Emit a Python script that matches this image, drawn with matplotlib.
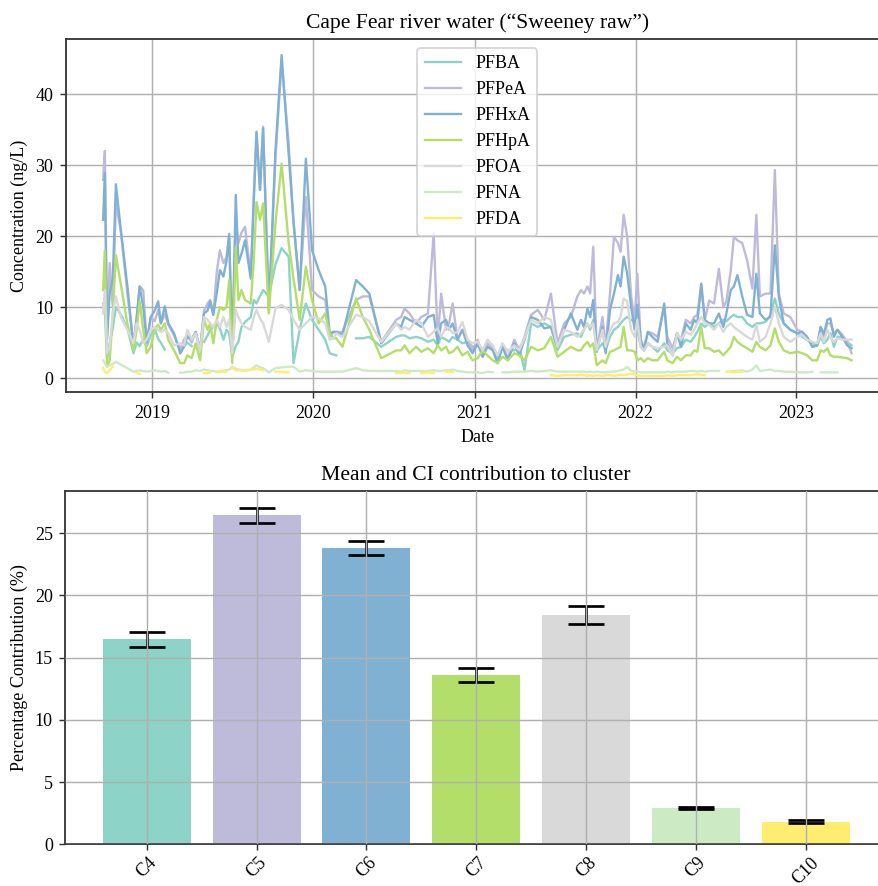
import numpy as np
import pandas as pd
import matplotlib
matplotlib.use("Agg")
import matplotlib.pyplot as plt
import matplotlib.dates as mdates

nan = np.nan

dates = [
    '2018-09-11', '2018-09-15', '2018-09-20', '2018-09-26', '2018-10-03', '2018-10-10', '2018-10-21', '2018-11-05', '2018-11-19', '2018-11-26',
    '2018-12-03', '2018-12-11', '2018-12-19', '2018-12-28', '2019-01-06', '2019-01-14', '2019-01-20', '2019-01-29', '2019-02-06', '2019-02-19',
    '2019-03-05', '2019-03-14', '2019-03-21', '2019-03-31', '2019-04-09', '2019-04-19', '2019-04-28', '2019-05-06', '2019-05-12', '2019-05-19',
    '2019-05-27', '2019-06-03', '2019-06-11', '2019-06-18', '2019-06-24', '2019-07-01', '2019-07-09', '2019-07-15', '2019-07-22', '2019-07-30',
    '2019-08-12', '2019-08-19', '2019-08-25', '2019-09-02', '2019-09-09', '2019-09-22', '2019-10-07', '2019-10-21', '2019-11-06', '2019-11-17',
    '2019-12-01', '2019-12-15', '2019-12-29', '2020-01-13', '2020-01-28', '2020-02-07', '2020-02-16', '2020-02-22', '2020-03-07', '2020-04-07',
    '2020-04-22', '2020-05-07', '2020-06-03', '2020-07-07', '2020-07-18', '2020-07-26', '2020-08-06', '2020-08-21', '2020-09-02', '2020-09-17',
    '2020-09-30', '2020-10-09', '2020-10-17', '2020-10-28', '2020-11-04', '2020-11-12', '2020-11-23', '2020-12-04', '2020-12-16', '2020-12-27',
    '2021-01-08', '2021-01-19', '2021-01-30', '2021-02-11', '2021-02-22', '2021-03-05', '2021-03-17', '2021-04-01', '2021-04-12', '2021-04-24',
    '2021-05-09', '2021-05-24', '2021-06-08', '2021-06-23', '2021-07-08', '2021-07-23', '2021-08-07', '2021-08-22', '2021-08-30', '2021-09-06',
    '2021-09-14', '2021-09-20', '2021-09-27', '2021-10-05', '2021-10-18', '2021-10-25', '2021-11-04', '2021-11-13', '2021-11-22', '2021-11-28',
    '2021-12-05', '2021-12-13', '2021-12-22', '2021-12-30', '2022-01-05', '2022-01-13', '2022-01-20', '2022-01-29', '2022-02-08', '2022-02-20',
    '2022-03-07', '2022-03-14', '2022-03-26', '2022-04-05', '2022-04-14', '2022-04-25', '2022-05-06', '2022-05-14', '2022-05-21', '2022-05-30',
    '2022-06-07', '2022-06-17', '2022-06-28', '2022-07-09', '2022-07-19', '2022-07-26', '2022-08-05', '2022-08-12', '2022-08-20', '2022-08-31',
    '2022-09-11', '2022-09-23', '2022-10-02', '2022-10-10', '2022-10-23', '2022-11-03', '2022-11-13', '2022-11-22', '2022-12-03', '2022-12-18',
    '2023-01-03', '2023-01-14', '2023-01-25', '2023-02-06', '2023-02-17', '2023-02-25', '2023-03-04', '2023-03-12', '2023-03-19', '2023-03-27',
    '2023-04-04', '2023-04-15', '2023-04-26', '2023-05-06']

pfba = [
    10.5, 9.5, 2.5, 5.0, 7.0, 10.0, 9.0, 7.0, 3.5, 5.0,
    4.5, 5.5, 4.5, 6.0, 7.0, 5.5, 5.0, 4.0, nan, nan,
    3.5, 4.5, 5.0, 4.5, nan, nan, 5.1, 6.0, 6.8, 7.2,
    7.7, 7.0, 5.4, 6.8, 6.3, 3.0, 4.5, 5.1, 7.2, 7.9,
    8.6, 11.0, 10.5, 11.5, 12.4, 11.5, 16.0, 18.3, 17.1, 2.1,
    6.8, 10.5, 8.2, 6.8, 5.4, 3.5, 3.3, 3.2, nan, 5.6,
    5.6, 5.8, 4.4, 5.8, 6.0, 6.0, 5.6, 5.8, 5.6, 5.1,
    5.4, 4.6, 5.8, 5.4, 5.1, 5.8, 5.4, 4.9, 5.1, 4.4,
    4.6, 3.9, 4.4, 4.2, 2.8, 4.4, 3.9, 3.9, 4.4, 1.1,
    7.7, 7.2, 7.7, 7.2, 3.9, 5.8, 6.1, 6.3, 5.8, 6.8,
    7.7, 6.8, 8.2, 3.9, 4.9, 3.9, 5.8, 6.8, 7.2, 7.7,
    8.2, 8.6, 8.2, 7.9, 6.8, 4.4, 3.9, 4.9, 4.4, 3.7,
    4.9, 3.9, 3.5, 4.2, 4.4, 5.4, 5.1, 5.8, 6.5, 7.7,
    7.2, 7.7, 7.2, 7.7, 8.2, 8.0, 8.6, 8.9, 8.6, 8.6,
    7.7, 7.2, 7.7, 7.7, 7.9, 8.9, 11.2, 9.1, 7.7, 6.8,
    6.3, 5.8, 5.4, 4.9, 4.6, 5.8, 4.9, 5.4, 6.3, 4.4,
    5.8, 5.8, 5.1, 4.6]

pfpea = [
    27.9, 32.0, 6.8, 16.2, 10.0, 24.6, 20.8, 12.0, 4.5, 8.0,
    12.9, 12.4, 5.0, 8.6, 8.0, 9.6, 7.7, 9.0, 7.5, 6.0,
    4.0, 5.5, 6.0, 5.0, 6.5, 4.0, 9.5, 10.5, 11.0, 9.0,
    15.0, 18.0, 16.2, 17.0, 19.9, 4.0, 22.0, 19.0, 20.5, 21.3,
    14.3, 26.0, 34.5, 26.5, 35.4, 9.6, 31.0, 44.6, 33.0, 22.0,
    12.4, 25.5, 12.4, 11.5, 11.0, 5.8, 6.5, 6.5, 6.5, 11.0,
    11.5, 11.5, 5.1, 8.2, 8.6, 9.8, 9.1, 7.7, 8.6, 9.1,
    20.4, 5.4, 11.9, 6.8, 7.7, 10.5, 5.4, 6.8, 5.4, 3.9,
    5.4, 3.0, 4.9, 4.2, 2.1, 4.6, 2.8, 5.4, 3.9, 5.8,
    8.9, 9.6, 8.2, 11.9, 4.9, 7.7, 8.6, 11.5, 12.4, 11.9,
    12.9, 11.9, 18.5, 3.9, 8.6, 4.4, 11.9, 19.9, 19.0, 17.8,
    23.0, 19.9, 11.5, 8.2, 14.7, 4.9, 4.4, 6.5, 6.3, 5.8,
    10.0, 5.8, 4.2, 6.3, 5.4, 8.2, 7.7, 8.6, 8.9, 13.1,
    8.2, 10.9, 10.5, 15.4, 10.0, 10.8, 15.2, 19.9, 19.4, 19.0,
    16.6, 12.6, 23.0, 11.5, 11.9, 11.9, 29.3, 11.9, 9.1, 8.6,
    6.8, 6.5, 5.8, 4.4, 4.6, 7.2, 5.8, 7.7, 7.7, 6.3,
    6.8, 6.1, 5.1, 3.5]

pfhxa = [
    22.3, 28.9, 5.4, 12.0, 14.0, 27.3, 21.0, 13.0, 4.4, 8.5,
    12.9, 10.0, 5.0, 8.6, 9.5, 10.8, 7.7, 10.1, 7.7, 6.3,
    3.5, 4.5, 5.8, 5.5, 6.5, 3.9, 9.1, 9.5, 10.8, 8.9,
    12.0, 15.2, 14.3, 16.5, 20.3, 3.9, 25.8, 16.2, 17.5, 19.4,
    14.0, 25.0, 34.7, 26.5, 35.2, 9.6, 32.0, 45.5, 31.6, 22.0,
    12.4, 30.9, 18.0, 15.2, 12.9, 6.3, 6.5, 6.5, 6.1, 13.8,
    12.9, 11.9, 4.9, 7.7, 7.2, 8.6, 8.2, 7.7, 7.2, 8.6,
    8.9, 4.9, 7.7, 8.2, 6.8, 7.7, 5.4, 6.8, 4.6, 3.5,
    4.9, 3.0, 4.4, 3.9, 2.1, 4.4, 2.5, 4.9, 3.2, 5.4,
    8.6, 8.2, 7.0, 7.2, 4.4, 6.8, 9.1, 6.8, 8.2, 7.2,
    9.8, 8.6, 11.0, 3.7, 7.2, 3.5, 9.6, 11.9, 14.5, 12.9,
    17.1, 14.7, 10.0, 6.8, 10.3, 5.4, 3.9, 6.5, 5.8, 5.1,
    10.5, 4.9, 3.2, 6.3, 4.4, 7.7, 6.8, 8.2, 7.7, 13.3,
    8.2, 7.7, 7.7, 9.1, 7.2, 9.1, 12.4, 12.9, 14.5, 11.5,
    8.9, 8.6, 14.7, 9.1, 8.2, 8.6, 18.7, 11.5, 7.7, 6.8,
    6.3, 6.5, 5.8, 4.4, 4.6, 7.2, 6.1, 8.2, 8.4, 5.8,
    6.8, 5.8, 4.6, 4.2]

pfhpa = [
    12.4, 18.0, 1.6, 2.5, 9.0, 17.3, 13.3, 7.7, 3.9, 6.8,
    10.8, 6.8, 3.5, 4.4, 6.8, 7.5, 6.8, 7.7, 5.4, 3.9,
    2.1, 2.1, 3.2, 2.8, 4.9, 2.5, 8.2, 6.8, 7.7, 4.9,
    8.2, 10.0, 9.6, 10.0, 13.8, 2.1, 18.5, 11.0, 12.4, 11.0,
    10.5, 16.6, 24.8, 22.3, 24.6, 9.1, 21.8, 30.2, 19.0, 14.0,
    8.2, 15.7, 11.0, 7.7, 9.1, 6.3, 5.6, 5.6, 4.4, 11.2,
    8.6, 6.8, 2.8, 3.9, 3.9, 4.6, 3.5, 4.4, 3.7, 4.2,
    3.5, 4.6, 3.9, 4.4, 3.5, 3.7, 4.4, 3.2, 3.7, 2.5,
    2.8, 3.9, 3.2, 2.5, 2.1, 3.0, 2.5, 3.5, 3.2, 2.5,
    4.4, 3.9, 4.2, 5.8, 3.0, 3.7, 4.4, 3.9, 3.9, 4.6,
    5.1, 4.4, 4.9, 1.8, 2.5, 2.1, 3.7, 3.9, 4.2, 4.4,
    7.2, 3.9, 3.9, 3.7, 2.5, 2.8, 2.3, 2.8, 2.5, 2.5,
    3.7, 2.5, 2.1, 3.0, 2.5, 3.2, 3.2, 3.9, 3.7, 7.2,
    4.2, 4.2, 3.7, 3.9, 3.2, 3.7, 4.4, 5.8, 5.1, 4.6,
    4.2, 3.7, 5.1, 4.4, 3.9, 4.6, 7.0, 5.1, 3.9, 3.5,
    3.7, 3.5, 3.2, 2.5, 2.5, 3.9, 3.7, 4.2, 3.2, 3.0,
    3.0, 2.9, 2.8, 2.5]

pfoa = [
    9.1, 12.4, 3.5, 4.4, 9.1, 11.5, 8.6, 6.8, 4.9, 7.7,
    6.8, 4.9, 5.4, 6.8, 7.2, 6.8, 6.5, 6.8, 6.3, 4.6,
    4.9, 4.6, 6.8, 5.4, 6.3, 3.9, 8.6, 8.2, 7.7, 7.2,
    8.2, 7.2, 8.6, 7.2, 8.2, 3.5, 9.6, 8.6, 7.7, 7.2,
    6.8, 8.6, 9.6, 8.4, 7.7, 5.1, 9.8, 10.3, 9.6, 8.2,
    6.8, 7.7, 8.6, 8.4, 7.7, 5.4, 5.6, 6.3, 5.8, 8.9,
    8.6, 8.0, 5.1, 7.7, 6.8, 7.2, 6.8, 8.2, 7.7, 5.8,
    6.5, 7.0, 5.8, 7.2, 7.0, 6.3, 6.5, 7.9, 5.4, 4.9,
    5.1, 3.9, 5.4, 4.6, 3.2, 4.9, 3.7, 4.6, 3.9, 5.6,
    8.2, 7.7, 8.6, 8.2, 4.4, 6.8, 6.5, 5.8, 6.3, 6.8,
    7.7, 7.2, 7.7, 3.9, 6.8, 4.4, 6.8, 7.7, 7.9, 8.6,
    11.2, 10.8, 6.8, 5.8, 8.2, 4.4, 3.9, 4.9, 4.4, 4.2,
    4.4, 4.6, 3.2, 6.3, 5.4, 6.5, 6.1, 6.8, 7.7, 8.6,
    7.7, 7.5, 6.8, 7.7, 6.5, 7.2, 7.7, 7.2, 6.8, 6.3,
    5.8, 5.4, 7.5, 5.1, 5.8, 7.7, 10.0, 7.7, 5.8, 5.1,
    5.8, 6.1, 5.4, 5.1, 4.9, 6.3, 5.1, 6.8, 5.8, 5.1,
    5.6, 5.4, 5.4, 5.4]

pfna = [
    2.5, 2.1, 1.6, 1.8, 2.0, 2.3, 1.9, 1.4, 0.9, 1.0,
    1.1, 1.0, 0.9, 1.0, 1.1, 1.0, 0.9, 1.0, 0.75, nan,
    0.75, 0.8, 0.9, 0.9, 1.1, 1.0, 1.2, 1.1, 1.0, 1.0,
    0.9, 1.0, 1.0, 1.1, 1.2, 1.6, 1.3, 1.2, 1.1, 1.0,
    1.2, 1.5, 1.8, 1.5, 1.4, 0.8, 1.4, 1.5, 1.6, 1.6,
    0.9, 1.1, 1.0, 0.9, 0.9, 0.9, 0.9, 0.9, 0.9, 1.4,
    1.1, 1.0, 1.0, 1.0, 0.9, 1.1, 1.0, 1.0, 1.0, 1.0,
    1.1, 1.0, 1.0, 1.1, 1.1, 1.2, 1.0, 0.9, 0.8, 0.8,
    0.8, 0.7, 0.9, 0.8, nan, 0.8, 0.8, 0.9, 0.9, 0.9,
    1.0, 0.9, 1.0, 1.1, 0.9, 0.9, 0.9, 0.9, 0.9, 0.9,
    0.8, 0.9, 0.8, 0.9, 0.8, 0.8, 0.9, 0.9, 1.0, 1.1,
    1.2, 1.6, 1.0, 0.9, 0.9, 0.8, 0.8, 0.8, 0.8, 0.8,
    0.8, 0.9, 0.8, 0.9, 0.9, 0.9, 1.0, 1.0, 0.9, 1.0,
    0.9, 1.0, 1.0, 1.0, nan, nan, 0.9, 1.0, 1.0, 1.1,
    0.9, 1.2, 1.8, 1.0, 1.1, 1.2, 1.0, 1.0, 0.9, 0.9,
    0.8, 0.8, 0.8, 0.9, nan, 0.8, 0.8, 0.8, 0.8, 0.8,
    0.8, nan, nan, nan]

pfda = [
    1.4, 0.9, 0.7, 1.1, 1.6, nan, nan, nan, nan, 0.7,
    0.6, nan, nan, nan, nan, nan, nan, nan, nan, nan,
    nan, nan, nan, nan, nan, nan, 0.7, 0.7, 0.8, nan,
    0.9, 0.9, 0.9, 0.9, nan, 1.4, 1.1, 1.1, 1.1, 1.1,
    1.2, 1.2, 1.3, 1.2, 1.1, nan, 0.9, 0.9, 0.8, nan,
    nan, nan, nan, nan, nan, nan, nan, nan, nan, nan,
    nan, nan, nan, 0.7, 0.7, 0.8, 0.7, nan, 0.7, 0.8,
    0.7, nan, nan, 0.9, 0.9, 0.8, nan, nan, nan, nan,
    nan, nan, nan, nan, nan, nan, nan, nan, nan, nan,
    nan, nan, nan, 0.4, 0.3, 0.4, 0.4, 0.4, 0.5, 0.4,
    0.3, 0.4, 0.3, 0.4, 0.3, 0.4, 0.4, 0.3, 0.4, 0.5,
    0.4, 0.5, 0.6, 0.5, 0.4, 0.3, 0.3, 0.3, 0.3, 0.3,
    0.3, 0.4, 0.3, 0.4, 0.4, 0.4, 0.4, 0.5, 0.5, 0.5,
    0.4, nan, nan, nan, nan, 0.9, 0.9, 0.8, 0.9, 0.9,
    nan, nan, nan, nan, nan, nan, nan, nan, nan, nan,
    nan, nan, nan, nan, nan, nan, nan, nan, nan, nan,
    nan, nan, nan, nan]

series_names = ['PFBA', 'PFPeA', 'PFHxA', 'PFHpA', 'PFOA', 'PFNA', 'PFDA']
series_colors = ['#8dd3c7', '#bebada', '#80b1d3', '#b3de69', '#d9d9d9', '#ccebc5', '#ffed6f']

clusters = ['C4', 'C5', 'C6', 'C7', 'C8', 'C9', 'C10']
contrib_mean = [16.48, 26.43, 23.78, 13.59, 18.40, 2.91, 1.79]
contrib_err = [0.60, 0.62, 0.56, 0.53, 0.72, 0.10, 0.12]

plt.rcParams['font.family'] = ['Liberation Serif', 'DejaVu Serif']
plt.rcParams['font.size'] = 10
plt.rcParams['axes.edgecolor'] = '#333333'
plt.rcParams['axes.linewidth'] = 1.0
plt.rcParams['xtick.color'] = '#333333'
plt.rcParams['ytick.color'] = '#333333'
plt.rcParams['xtick.labelcolor'] = 'black'
plt.rcParams['ytick.labelcolor'] = 'black'

fig = plt.figure(figsize=(878 / 130, 886 / 130), dpi=130)
ax1 = fig.add_axes([0.0748, 0.5576, 0.9377, 0.3984])
ax2 = fig.add_axes([0.0746, 0.0471, 0.9356, 0.3991])

t = pd.to_datetime(dates)
all_series = [pfba, pfpea, pfhxa, pfhpa, pfoa, pfna, pfda]
for name, col, vals in zip(series_names, series_colors, all_series):
    ax1.plot(t, vals, color=col, lw=1.3, label=name)

ax1.xaxis.set_major_locator(mdates.YearLocator())
ax1.xaxis.set_major_formatter(mdates.DateFormatter('%Y'))
ax1.grid(True, color='#b0b0b0', lw=0.8)
ax1.set_axisbelow(True)
ax1.set_xlabel('Date')
ax1.set_ylabel('Concentration (ng/L)')
ax1.set_title('Cape Fear river water (\u201cSweeney raw\u201d)', fontsize=12)
ax1.legend(loc='upper center')

xpos = np.arange(len(clusters))
ax2.bar(xpos, contrib_mean, yerr=contrib_err, color=series_colors, width=0.8,
        capsize=10, error_kw=dict(elinewidth=1.5, capthick=1.5, ecolor='black'))
ax2.set_xticks(xpos)
ax2.set_xticklabels(clusters, rotation=45)
ax2.tick_params(axis='x', pad=2)
ax2.grid(True, color='#b0b0b0', lw=0.8)
ax2.set_axisbelow(False)
ax2.set_ylabel('Percentage Contribution (%)')
ax2.set_title('Mean and CI contribution to cluster', fontsize=12)

fig.savefig('out.png', dpi=130)
